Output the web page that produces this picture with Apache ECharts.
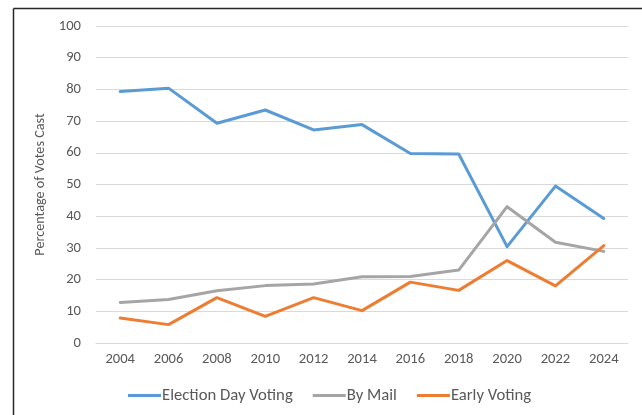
<!DOCTYPE html>
<html>
<head>
<meta charset="utf-8">
<script src="https://cdn.jsdelivr.net/npm/echarts@6/dist/echarts.min.js"></script>
<style>
html,body{margin:0;padding:0;background:#fff;}
#chart{width:642px;height:415px;}
</style>
</head>
<body>
<div id="chart"></div>
<script>
const years = ['2004','2006','2008','2010','2012','2014','2016','2018','2020','2022','2024'];
const electionDay = [79.3, 80.4, 69.3, 73.5, 67.2, 68.9, 59.8, 59.6, 30.4, 49.5, 39.3];
const byMail = [12.8, 13.7, 16.5, 18.1, 18.6, 20.9, 21.0, 23.0, 43.0, 31.8, 28.9];
const earlyVoting = [7.9, 5.8, 14.3, 8.4, 14.3, 10.2, 19.2, 16.6, 26.0, 18.0, 30.7];
const yTicks = {min: 0, max: 100, interval: 10};

const font = 'Carlito, "Liberation Sans", "DejaVu Sans", sans-serif';
const chart = echarts.init(document.getElementById('chart'), null, {renderer: 'canvas'});
function line(name, data, color) {
  return {
    name: name, type: 'line', data: data, symbol: 'none', smooth: false,
    lineStyle: {color: color, width: 3, cap: 'round', join: 'round'},
    itemStyle: {color: color}
  };
}
chart.setOption({
  animation: false,
  backgroundColor: '#ffffff',
  textStyle: {fontFamily: font},
  grid: {left: 96, right: 14, top: 26, bottom: 72, containLabel: false},
  xAxis: {
    type: 'category', data: years, boundaryGap: true,
    axisLine: {show: true, lineStyle: {color: '#D9D9D9', width: 1}},
    axisTick: {show: false},
    axisLabel: {color: '#595959', fontSize: 14.6, margin: 9, fontFamily: font}
  },
  yAxis: {
    type: 'value', min: yTicks.min, max: yTicks.max, interval: yTicks.interval,
    name: 'Percentage of Votes Cast', nameLocation: 'middle', nameGap: 45,
    nameTextStyle: {color: '#595959', fontSize: 14.2, fontFamily: font},
    axisLine: {show: false}, axisTick: {show: false},
    axisLabel: {color: '#595959', fontSize: 14.6, margin: 15, fontFamily: font},
    splitLine: {lineStyle: {color: '#D9D9D9', width: 1}}
  },
  legend: {
    top: 382, left: 123,
    icon: 'rect', itemWidth: 33, itemHeight: 3, itemGap: 20,
    textStyle: {color: '#595959', fontSize: 16.7, fontFamily: font, padding: [0,0,0,-4]},
    data: ['Election Day Voting', 'By Mail', 'Early Voting']
  },
  graphic: [
    {type: 'line', shape: {x1: 13.5, y1: 8.5, x2: 642, y2: 8.5}, style: {stroke: '#262626', lineWidth: 1.5}},
    {type: 'line', shape: {x1: 13.5, y1: 8.5, x2: 13.5, y2: 415}, style: {stroke: '#262626', lineWidth: 1.5}}
  ],
  series: [
    line('Election Day Voting', electionDay, '#5B9BD5'),
    line('By Mail', byMail, '#A5A5A5'),
    line('Early Voting', earlyVoting, '#ED7D31')
  ]
});
</script>
</body>
</html>
